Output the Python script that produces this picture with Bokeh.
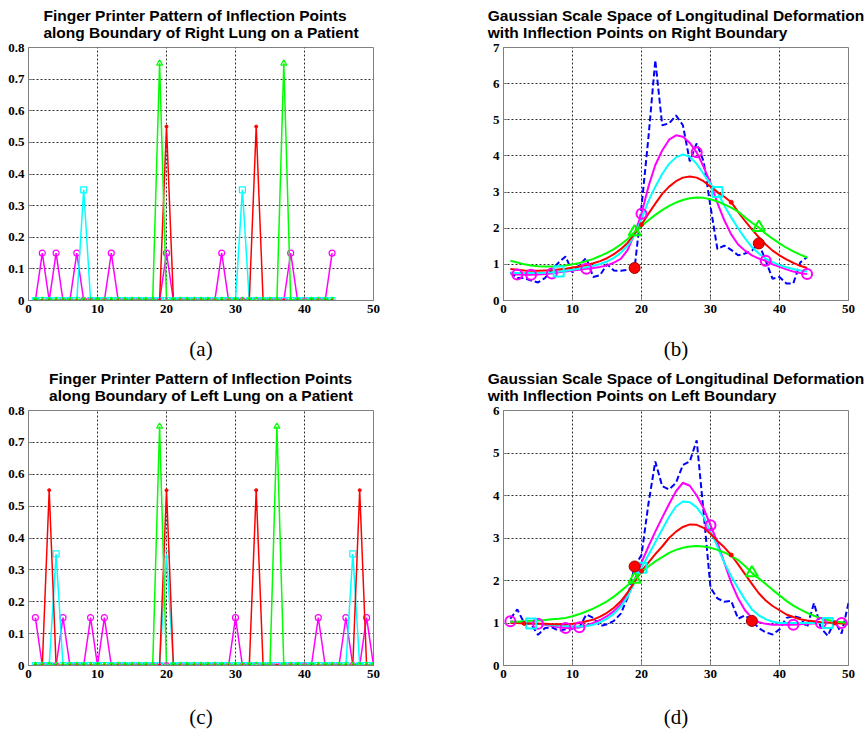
from bokeh.plotting import figure
from bokeh.models import Range1d, FixedTicker
from bokeh.layouts import column, row
from bokeh.embed import file_html
from bokeh.resources import INLINE

# ---------------- data ----------------
# sample index along the boundary
x_right = list(range(1, 45))
x_left = list(range(1, 51))

# inflection points at each Gaussian scale (small -> large sigma)
right_infl_magenta = [2, 4, 7, 12, 20, 28, 38, 44]
right_infl_cyan = [8, 31]
right_infl_red = [20, 33]
right_infl_green = [19, 37]

left_infl_magenta = [1, 5, 9, 11, 30, 42, 46, 49]
left_infl_cyan = [4, 20, 47]
left_infl_red = [3, 20, 33, 48]
left_infl_green = [19, 36]

# fingerprint heights per scale: magenta, cyan, red, green
fingerprint_levels = [0.15, 0.35, 0.55, 0.75]

# right boundary: raw longitudinal deformation and smoothed versions
right_raw = [0.78, 0.62, 0.62, 0.55, 0.50, 0.62, 0.85, 1.05, 1.22, 0.78,
             0.98, 1.18, 0.65, 0.70, 1.00, 0.83, 0.82, 0.85, 0.90, 2.60,
             4.50, 6.65, 4.85, 4.90, 5.12, 4.85, 3.85, 4.35, 3.85, 2.60,
             1.42, 1.52, 1.40, 1.25, 1.30, 1.38, 1.58, 1.10, 0.60, 0.65,
             0.47, 0.47, 1.05, 1.20]
right_magenta = [0.74, 0.72, 0.71, 0.71, 0.72, 0.73, 0.75, 0.78, 0.80, 0.83,
                 0.85, 0.88, 0.90, 0.93, 0.97, 1.05, 1.15, 1.40, 1.85, 2.40,
                 3.15, 3.75, 4.15, 4.45, 4.57, 4.53, 4.36, 4.10, 3.70, 3.25,
                 2.70, 2.22, 1.83, 1.55, 1.38, 1.25, 1.16, 1.10, 1.00, 0.93,
                 0.86, 0.80, 0.76, 0.73]
right_cyan = [0.77, 0.76, 0.76, 0.76, 0.76, 0.77, 0.78, 0.80, 0.82, 0.85,
              0.88, 0.92, 0.96, 1.01, 1.08, 1.18, 1.32, 1.52, 1.80, 2.25,
              2.75, 3.15, 3.50, 3.78, 3.96, 4.04, 3.98, 3.78, 3.50, 3.22,
              3.00, 2.62, 2.30, 2.00, 1.72, 1.48, 1.30, 1.16, 1.06, 0.98,
              0.92, 0.87, 0.83, 0.80]
right_red = [0.87, 0.85, 0.83, 0.82, 0.82, 0.83, 0.84, 0.86, 0.88, 0.91,
             0.94, 0.98, 1.03, 1.09, 1.17, 1.28, 1.42, 1.60, 1.85, 2.10,
             2.40, 2.68, 2.95, 3.15, 3.30, 3.40, 3.43, 3.40, 3.30, 3.15,
             3.00, 2.87, 2.72, 2.45, 2.20, 1.97, 1.75, 1.55, 1.38, 1.25,
             1.14, 1.04, 0.96, 0.90]
right_green = [1.10, 1.05, 1.00, 0.97, 0.95, 0.94, 0.94, 0.95, 0.97, 1.00,
               1.04, 1.09, 1.15, 1.23, 1.32, 1.42, 1.55, 1.70, 1.90, 2.06,
               2.22, 2.37, 2.50, 2.62, 2.71, 2.78, 2.83, 2.85, 2.84, 2.80,
               2.74, 2.66, 2.57, 2.46, 2.30, 2.15, 2.02, 1.85, 1.71, 1.58,
               1.46, 1.36, 1.27, 1.19]

# left boundary
left_raw = [1.10, 1.32, 1.00, 0.97, 0.72, 0.88, 0.90, 0.82, 0.85, 0.87,
            0.90, 1.20, 1.12, 0.93, 0.97, 1.05, 1.22, 1.60, 2.33, 2.60,
            3.80, 4.80, 4.22, 4.14, 4.30, 4.72, 4.80, 5.30, 3.60, 1.83,
            1.58, 1.50, 1.52, 1.10, 1.18, 1.05, 0.88, 0.78, 0.73, 0.85,
            1.12, 1.16, 1.12, 0.90, 1.47, 0.88, 0.70, 1.05, 0.75, 1.47]
left_magenta = [1.04, 1.02, 1.00, 0.99, 0.98, 0.96, 0.93, 0.90, 0.88, 0.88,
                0.90, 0.94, 1.00, 1.07, 1.16, 1.28, 1.44, 1.66, 2.02, 2.42,
                2.80, 3.15, 3.48, 3.80, 4.10, 4.30, 4.23, 4.00, 3.70, 3.30,
                2.90, 2.42, 1.95, 1.58, 1.30, 1.12, 1.02, 0.98, 0.96, 0.96,
                0.96, 0.96, 0.97, 0.98, 0.99, 1.00, 1.00, 1.00, 1.00, 1.00]
left_cyan = [1.02, 1.01, 1.00, 0.99, 0.98, 0.97, 0.95, 0.94, 0.93, 0.92,
             0.92, 0.93, 0.96, 1.02, 1.10, 1.22, 1.38, 1.62, 1.95, 2.30,
             2.60, 2.90, 3.20, 3.50, 3.74, 3.86, 3.84, 3.72, 3.50, 3.15,
             2.80, 2.42, 2.10, 1.82, 1.55, 1.32, 1.18, 1.09, 1.03, 1.00,
             1.00, 1.00, 1.00, 1.00, 1.00, 1.00, 1.00, 1.00, 1.00, 1.00]
left_red = [1.00, 1.00, 0.99, 0.99, 0.98, 0.98, 0.97, 0.97, 0.97, 0.98,
            1.00, 1.04, 1.08, 1.15, 1.24, 1.36, 1.51, 1.72, 1.97, 2.22,
            2.42, 2.62, 2.80, 3.00, 3.15, 3.26, 3.32, 3.31, 3.24, 3.10,
            2.93, 2.78, 2.60, 2.38, 2.15, 1.92, 1.70, 1.53, 1.40, 1.30,
            1.20, 1.14, 1.09, 1.06, 1.04, 1.02, 1.01, 1.00, 0.99, 0.98]
left_green = [1.03, 1.03, 1.04, 1.05, 1.06, 1.07, 1.09, 1.10, 1.12, 1.16,
              1.21, 1.27, 1.34, 1.42, 1.51, 1.62, 1.75, 1.89, 2.03, 2.20,
              2.33, 2.45, 2.55, 2.65, 2.72, 2.77, 2.80, 2.81, 2.80, 2.77,
              2.72, 2.66, 2.58, 2.48, 2.34, 2.18, 2.05, 1.92, 1.78, 1.65,
              1.52, 1.41, 1.32, 1.24, 1.17, 1.11, 1.07, 1.04, 1.02, 1.00]

x_ticks = [0, 10, 20, 30, 40, 50]
fp_ticks = [0, 0.1, 0.2, 0.3, 0.4, 0.5, 0.6, 0.7, 0.8]
right_ticks = [0, 1, 2, 3, 4, 5, 6, 7]
left_ticks = [0, 1, 2, 3, 4, 5, 6]

titles = {
    "a": "Finger Printer Pattern of Inflection Points\nalong Boundary of Right Lung on a Patient",
    "b": "Gaussian Scale Space of Longitudinal Deformation\nwith Inflection Points on Right Boundary",
    "c": "Finger Printer Pattern of Inflection Points\nalong Boundary of Left Lung on a Patient",
    "d": "Gaussian Scale Space of Longitudinal Deformation\nwith Inflection Points on Left Boundary",
}

MAG, CYA, RED, GRN, BLU = "#ff00ff", "#00ffff", "#ff0000", "#00ff00", "#0000ff"
GRAY = "#808080"


def base_fig(title, ymax, yticks, caption, left, right, height, bottom, cap_standoff):
    p = figure(width=434, height=height, x_range=Range1d(0, 50), y_range=Range1d(0, ymax),
               output_backend="svg", toolbar_location=None,
               min_border_left=left, min_border_right=right,
               min_border_top=47, min_border_bottom=bottom)
    p.background_fill_color = "white"
    p.border_fill_color = "white"
    p.outline_line_color = GRAY
    p.outline_line_width = 1
    p.title.text = title
    p.title.align = "center"
    p.title.vertical_align = "top"
    p.title.text_font = "Liberation Sans"
    p.title.text_font_size = "15.5px"
    p.title.text_font_style = "bold"
    p.title.text_color = "black"
    p.title.text_line_height = 1.0
    p.title.standoff = 9
    p.xaxis.ticker = FixedTicker(ticks=x_ticks)
    p.yaxis.ticker = FixedTicker(ticks=yticks)
    for ax in (p.xaxis[0], p.yaxis[0]):
        ax.major_label_text_font = "Liberation Serif"
        ax.major_label_text_font_style = "bold"
        ax.major_label_text_font_size = "13px"
        ax.major_label_text_color = "black"
        ax.major_tick_in = 4
        ax.major_tick_out = 0
        ax.minor_tick_line_color = None
        ax.axis_line_color = GRAY
        ax.major_tick_line_color = GRAY
        ax.major_label_standoff = 4
    p.xaxis.axis_label = caption
    p.xaxis.axis_label_text_font = "Liberation Serif"
    p.xaxis.axis_label_text_font_style = "normal"
    p.xaxis.axis_label_text_font_size = "21px"
    p.xaxis.axis_label_text_color = "black"
    p.xaxis.axis_label_standoff = cap_standoff
    p.grid.grid_line_color = "#303030"
    p.grid.grid_line_dash = "2 2"
    p.grid.grid_line_width = 1
    return p


def fingerprint(xs, peaks, level):
    return [level if v in peaks else 0.0 for v in xs]


def fp_panel(title, caption, xs, infl, height, bottom, cap_standoff):
    p = base_fig(title, 0.8, fp_ticks, caption, 28, 61, height, bottom, cap_standoff)
    p.yaxis.major_label_overrides = {0: "0"}
    mag = fingerprint(xs, infl[0], fingerprint_levels[0])
    cya = fingerprint(xs, infl[1], fingerprint_levels[1])
    red = fingerprint(xs, infl[2], fingerprint_levels[2])
    grn = fingerprint(xs, infl[3], fingerprint_levels[3])
    p.line(xs, mag, line_color=MAG, line_width=1.5)
    p.scatter(xs, mag, marker="circle", size=6, line_color=MAG, fill_color=None, line_width=1.2)
    p.line(xs, cya, line_color=CYA, line_width=1.5)
    p.scatter(xs, cya, marker="square", size=6, line_color=CYA, fill_color=None, line_width=1.2)
    p.line(xs, red, line_color=RED, line_width=1.5)
    p.scatter(xs, red, marker="circle", size=3, line_color=RED, fill_color=RED)
    p.line(xs, grn, line_color=GRN, line_width=1.5)
    p.scatter(xs, grn, marker="triangle", size=6, line_color=GRN, fill_color=None, line_width=1.2)
    return p


def pick(xs, ys, pts):
    return [ys[xs.index(v)] for v in pts]


def ss_panel(title, caption, xs, ymax, yticks, raw, curves, infl, height, bottom, cap_standoff):
    p = base_fig(title, ymax, yticks, caption, 69, 20, height, bottom, cap_standoff)
    mag, cya, red, grn = curves
    p.line(xs, raw, line_color=BLU, line_width=2, line_dash="6 3")
    p.line(xs, mag, line_color=MAG, line_width=2)
    p.line(xs, cya, line_color=CYA, line_width=2)
    p.line(xs, red, line_color=RED, line_width=2)
    p.line(xs, grn, line_color=GRN, line_width=2)
    p.scatter(infl[0], pick(xs, mag, infl[0]), marker="circle", size=10,
              line_color=MAG, fill_color=None, line_width=2)
    p.scatter(infl[1], pick(xs, cya, infl[1]), marker="square", size=10,
              line_color=CYA, fill_color=None, line_width=2)
    p.scatter(infl[2], pick(xs, red, infl[2]), marker="circle", size=4,
              line_color=RED, fill_color=RED)
    p.scatter(infl[3], pick(xs, grn, infl[3]), marker="triangle", size=12,
              line_color=GRN, fill_color=None, line_width=2)
    p.scatter(infl[3], pick(xs, raw, infl[3]), marker="circle", size=11,
              line_color="#a00000", fill_color=RED, line_width=1)
    return p


r_infl = [right_infl_magenta, right_infl_cyan, right_infl_red, right_infl_green]
l_infl = [left_infl_magenta, left_infl_cyan, left_infl_red, left_infl_green]

pa = fp_panel(titles["a"], "(a)", x_right, r_infl, 363, 61, 21)
pb = ss_panel(titles["b"], "(b)", x_right, 7, right_ticks, right_raw,
              [right_magenta, right_cyan, right_red, right_green], r_infl, 363, 61, 21)
pc = fp_panel(titles["c"], "(c)", x_left, l_infl, 369, 67, 24)
pd = ss_panel(titles["d"], "(d)", x_left, 6, left_ticks, left_raw,
              [left_magenta, left_cyan, left_red, left_green], l_infl, 369, 67, 24)

layout = column(row(pa, pb), row(pc, pd))

open("out.html", "w").write(file_html(layout, INLINE))
